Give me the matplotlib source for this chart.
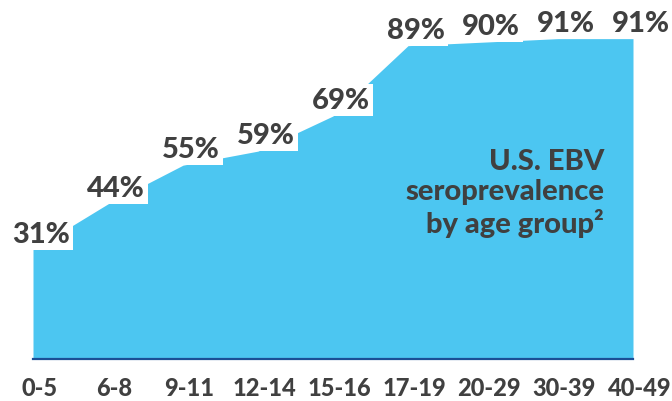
import matplotlib
matplotlib.use("Agg")
import matplotlib.pyplot as plt
import matplotlib.transforms as mtransforms
import numpy as np

# EBV seroprevalence by age group (%)
age_groups = ["0-5", "6-8", "9-11", "12-14", "15-16", "17-19", "20-29", "30-39", "40-49"]
seroprevalence = [31, 44, 55, 59, 69, 89, 90, 91, 91]

FILL = "#4CC6F1"
TEXT = "#404040"
BASE = "#1B4F96"
WEIGHT = 900

plt.rcParams["font.family"] = ["Lato", "DejaVu Sans"]

fig = plt.figure(figsize=(6.72, 4.02), dpi=100)
W, H = 672, 402
left_px, right_px = 33, 633
zero_px, top_px = 359.5, 8
ax = fig.add_axes([left_px / W, (H - zero_px) / H,
                   (right_px - left_px) / W, (zero_px - top_px) / H])

x = np.arange(len(age_groups))
ax.fill_between(x, 0, seroprevalence, color=FILL, linewidth=0, zorder=1)
ax.set_xlim(x[0], x[-1])
ax.set_ylim(0, 100)

for s in ["top", "left", "right"]:
    ax.spines[s].set_visible(False)
ax.spines["bottom"].set_color(BASE)
ax.spines["bottom"].set_linewidth(1.6)
ax.spines["bottom"].set_zorder(3)
ax.set_yticks([])
ax.set_xticks(x)
ax.set_xticklabels(age_groups, fontsize=17, fontweight=WEIGHT, color=TEXT)
ax.tick_params(axis="x", length=0, pad=12.5)
shift = mtransforms.ScaledTranslation(4.5 / 72, 0, fig.dpi_scale_trans)
for lbl in ax.get_xticklabels():
    lbl.set_transform(lbl.get_transform() + shift)

# value labels sitting on white boxes above each point
for xi, v in zip(x, seroprevalence):
    ax.annotate(f"{v}%", xy=(xi, v), xytext=(6, 2), textcoords="offset points",
                ha="center", va="bottom", fontsize=21, fontweight=WEIGHT,
                color=TEXT, zorder=4, annotation_clip=False,
                bbox=dict(boxstyle="square,pad=0.1", facecolor="white",
                          edgecolor="none"))

ax.text(0.952, 0.345, "U.S. EBV\nseroprevalence\nby age group²",
        transform=ax.transAxes, ha="right", va="bottom", multialignment="right",
        fontsize=21, fontweight=WEIGHT, color=TEXT, linespacing=1.19, zorder=5)

fig.savefig("out.png", dpi=100)
